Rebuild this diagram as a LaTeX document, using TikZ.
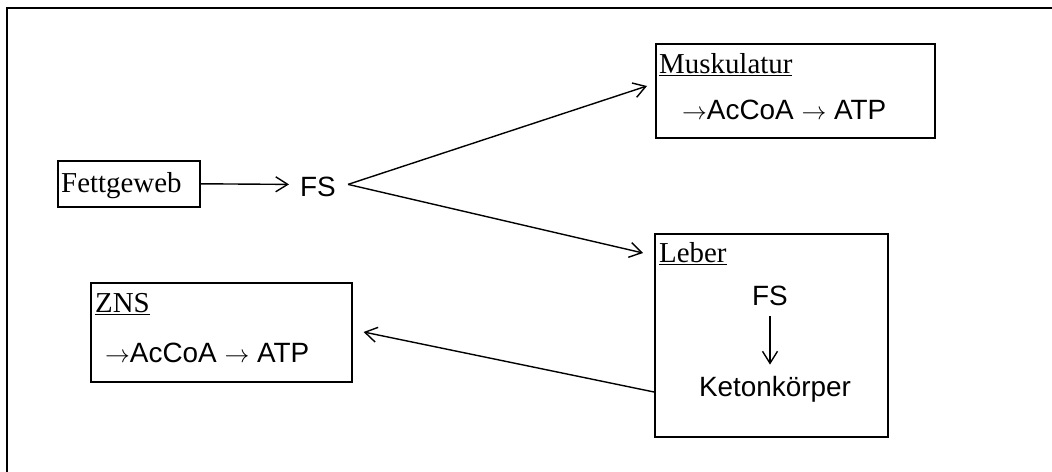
\documentclass[tikz,border=0pt]{standalone}
\usepackage{fontspec}
\setmainfont{Liberation Serif}
\newfontfamily\arialfont{Liberation Sans}
\usetikzlibrary{arrows.meta,calc}
\newcommand{\flowarrow}{\ensuremath{\rightarrow}}
\begin{document}
\begin{tikzpicture}[x=1bp,y=-1bp,
  boxnode/.style={draw,line width=1.6bp,inner sep=0pt},
  serifttl/.style={inner sep=0pt,font=\fontsize{29}{33}\selectfont,anchor=base west},
  sanstxt/.style={inner sep=0pt,font=\arialfont\fontsize{28}{32}\selectfont},
  arr/.style={line width=1.4bp,-{Straight Barb[length=12bp,width=15bp,line width=1.4bp]}}]
\useasboundingbox (0,0) rectangle (1052,472);
% outer frame (only top and left visible)
\draw[line width=2bp] (7,472) -- (7,8) -- (1052,8);
% boxes
\node[boxnode,minimum width=279bp,minimum height=94bp,anchor=north west] (musk) at (655,43) {};
\node[boxnode,minimum width=142bp,minimum height=46bp,anchor=north west] (fett) at (57,160) {};
\node[boxnode,minimum width=233bp,minimum height=203bp,anchor=north west] (leber) at (654,233) {};
\node[boxnode,minimum width=261bp,minimum height=99bp,anchor=north west] (zns) at (90,282) {};
% texts
\node[serifttl] (musktitle) at (659,74) {\underline{Muskulatur}};
\node[sanstxt,anchor=base west] (muskflow) at (682,120) {\flowarrow AcCoA \flowarrow{} ATP};
\node[serifttl] (fetttxt) at (61,193) {Fettgeweb};
\node[sanstxt,anchor=base west] (fs) at (300,197) {FS};
\node[serifttl] (lebertitle) at (659,263) {\underline{Leber}};
\node[sanstxt,anchor=base] (fsin) at (770,306) {FS};
\node[sanstxt,anchor=base] (keton) at (775,397) {Ketonkörper};
\node[serifttl] (znstitle) at (95,313) {\underline{ZNS}};
\node[sanstxt,anchor=base west] (znsflow) at (105,363) {\flowarrow AcCoA \flowarrow{} ATP};
% connector end points
\coordinate (fsout) at ($(fs.east)+(12,-3)$);
\coordinate (fsin0) at ($(fs.west)+(-11,-3)$);
\coordinate (musktip) at ($(musk.north west)+(-8,43)$);
\coordinate (lebertip) at ($(leber.north west)+(-11,20)$);
\coordinate (leberout) at ($(leber.north west)+(0,159)$);
\coordinate (znstip) at ($(zns.north east)+(11,50)$);
\coordinate (fsdown) at ($(fsin.south)+(0,10)$);
\coordinate (ketup) at (fsdown |- {$(keton.north)+(0,-12)$});
% connectors
\draw[arr] (fett.east) -- (fsin0);
\draw[arr] (fsout) -- (musktip);
\draw[arr] (fsout) -- (lebertip);
\draw[arr] (leberout) -- (znstip);
\draw[arr] (fsdown) -- (ketup);
\end{tikzpicture}
\end{document}
